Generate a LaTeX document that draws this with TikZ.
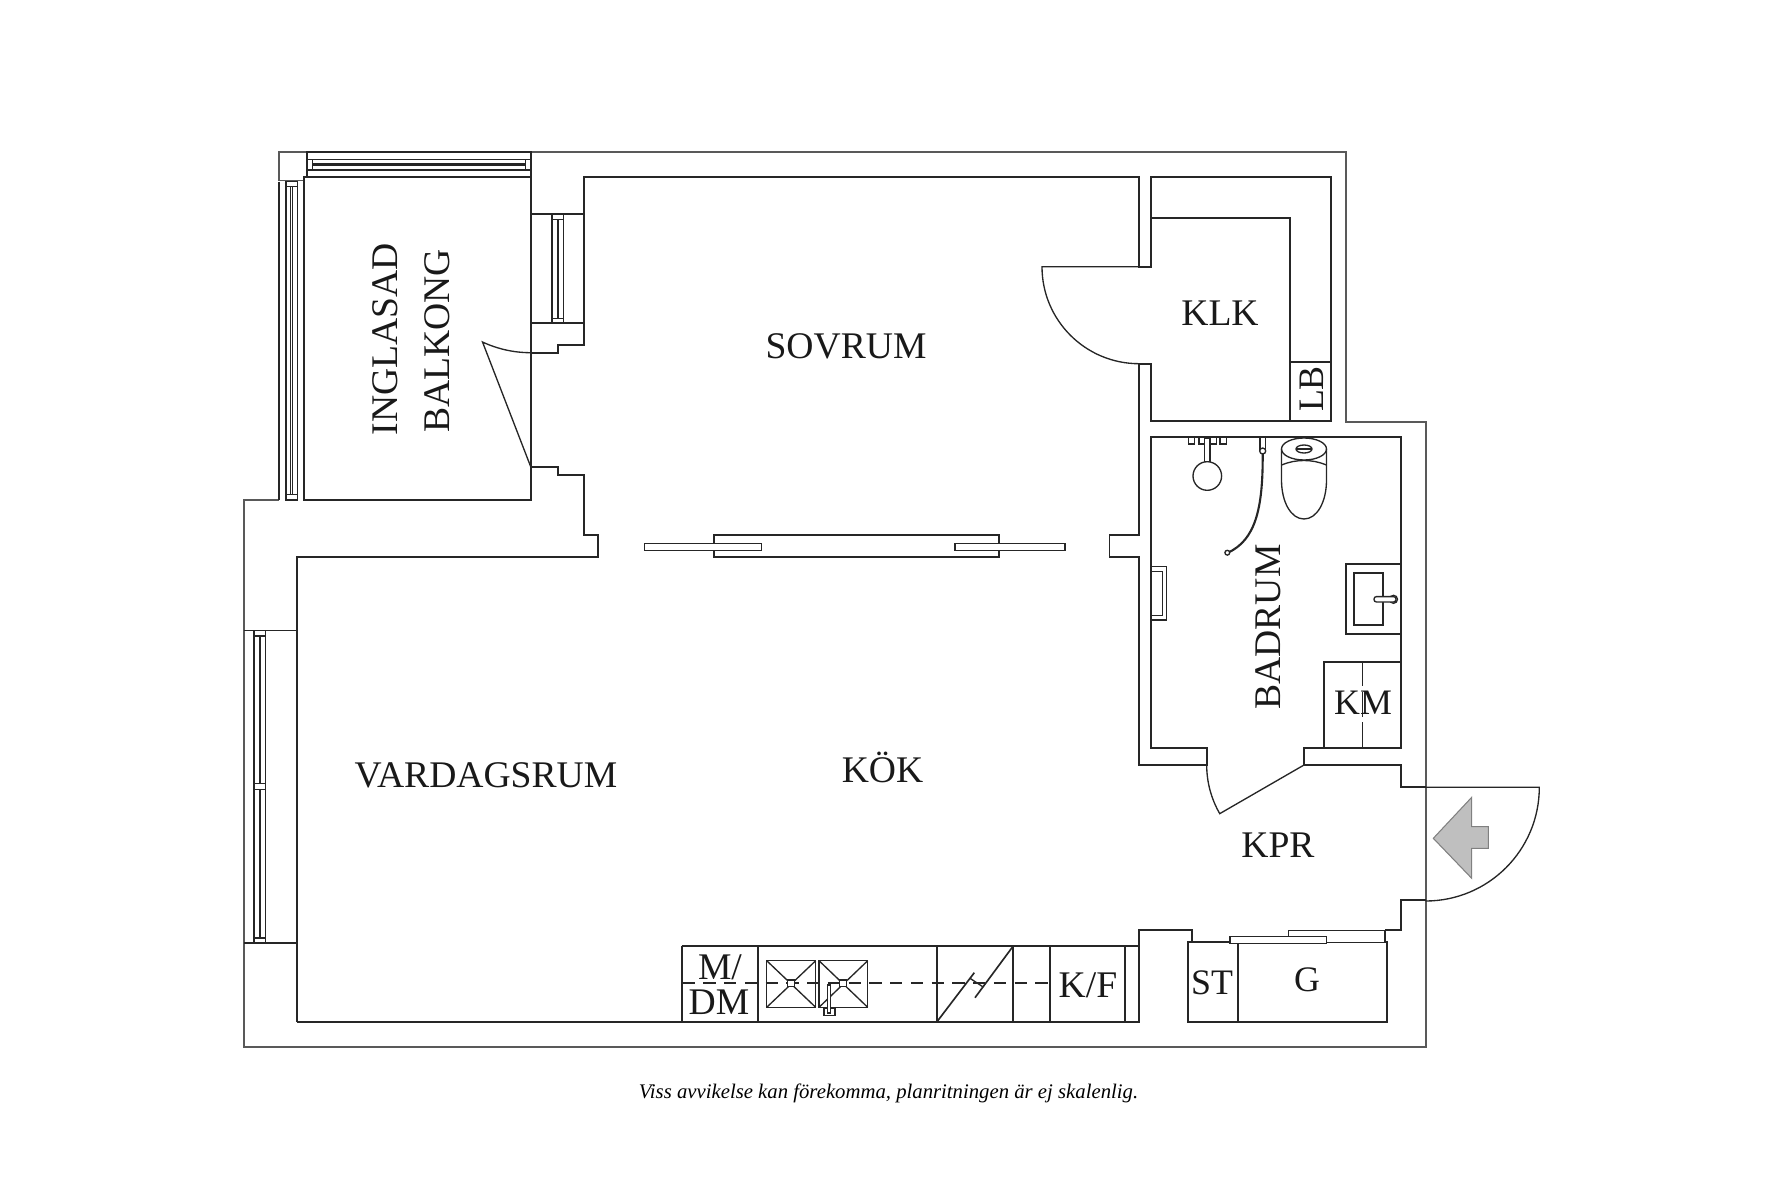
\documentclass[tikz,border=0pt]{standalone}
\usepackage{fontspec}
\setmainfont{Liberation Serif}
\begin{document}
\begin{tikzpicture}[x=1pt,y=1pt,scale=0.2845,yscale=-1,
		wall/.style={draw=black!85,line width=0.47pt,line join=miter},
		outer/.style={draw=black!65,line width=0.45pt},
		thin/.style={draw=black!85,line width=0.38pt},
		room/.style={font=\fontsize{10.7}{12}\selectfont,text=black!90,inner sep=0pt},
		small/.style={font=\fontsize{10.2}{12}\selectfont,text=black!90,inner sep=0pt},
]

\useasboundingbox (0,0) rectangle (1780,1187);

\draw[outer] (279,500) -- (244,500) -- (244,1047) -- (1425.7,1047) -- (1425.7,422) -- (1346,422) -- (1346,152) -- (279,152) -- (279,180.7) -- (304,180.7);

\draw[wall] (297.3,1022) -- (297.3,557) -- (597.7,557) -- (597.7,535) -- (584,535) -- (584,475) -- (558.3,475) -- (558.3,466.7) -- (530.7,466.7);
\draw[wall] (530.7,352.7) -- (558.3,352.7) -- (558.3,345) -- (584,345) -- (584,177.3) -- (1139,177.3) -- (1139,266.7) -- (1151,266.7) -- (1151,177.3) -- (1330.7,177.3) -- (1330.7,420.7) -- (1151,420.7) -- (1151,364) -- (1139,364) -- (1139,535) -- (1109.5,535) -- (1109.5,557) -- (1139,557) -- (1139,765) -- (1206.7,765) -- (1206.7,748.3) -- (1151,748.3) -- (1151,437.3) -- (1400.7,437.3) -- (1400.7,748.3) -- (1304,748.3) -- (1304,765) -- (1400.7,765) -- (1400.7,787.3) -- (1425.7,787.3);
\draw[wall] (1425.7,900) -- (1400.7,900) -- (1400.7,930) -- (1385,930);
\draw[wall] (1191.7,942.3) -- (1191.7,930) -- (1139,930) -- (1139,1022) -- (297.3,1022);

\draw[wall] (304,177.3) rectangle (530.7,500);
\draw[wall] (279.3,181.7) -- (279.3,500);
\draw[wall] (530.7,214) -- (584,214);
\draw[wall] (530.7,322.7) -- (584,322.7);
\draw[wall] (1151,217.7) -- (1290,217.7) -- (1290,420.7);
\draw[wall] (1290,362.3) -- (1330.7,362.3);

\draw[thin] (286,181.7) rectangle (297.3,500);
\draw[thin] (290.7,186.7) -- (290.7,494.7);
\draw[thin] (292.7,186.7) -- (292.7,494.7);
\draw[thin] (286,186.7) -- (297.3,186.7);
\draw[thin] (286,494.7) -- (297.3,494.7);

\draw[wall] (307.3,152.3) rectangle (530.7,177.3);
\draw[thin] (307.3,159.3) -- (530.7,159.3);
\draw[thin] (307.3,170) -- (530.7,170);
\draw[thin] (312.7,164) -- (525.3,164);
\draw[thin] (312.7,165.7) -- (525.3,165.7);
\draw[thin] (312.7,159.3) -- (312.7,170);
\draw[thin] (525.3,159.3) -- (525.3,170);

\draw[thin] (552,214) rectangle (563.3,322.7);
\draw[thin] (557.3,219.3) -- (557.3,318.3);
\draw[thin] (558.7,219.3) -- (558.7,318.3);
\draw[thin] (552,219.3) -- (563.3,219.3);
\draw[thin] (552,318.3) -- (563.3,318.3);

\draw[wall] (244,630.6) -- (297.3,630.6);
\draw[wall] (244,943) -- (297.3,943);
\draw[thin] (254,630.6) rectangle (265.7,943);
\draw[thin] (259.3,636) -- (259.3,783.8);
\draw[thin] (260.7,636) -- (260.7,783.8);
\draw[thin] (259.3,789.5) -- (259.3,938);
\draw[thin] (260.7,789.5) -- (260.7,938);
\draw[thin] (254,636) -- (265.7,636);
\draw[thin] (254,783.8) -- (265.7,783.8);
\draw[thin] (254,789.5) -- (265.7,789.5);
\draw[thin] (254,938) -- (265.7,938);

\draw[wall] (714.2,535) rectangle (999,557);
\draw[thin,fill=white] (644.2,543.7) rectangle (761.7,550.3);
\draw[thin,fill=white] (955,543.7) rectangle (1065,550.3);

\draw[thin] (530.7,352.7) arc (90:115:114pt) -- (530.7,466.7);
\draw[thin] (1139,266.7) -- (1042,266.7) arc (180:90:97pt);
\draw[thin] (1206.7,765) arc (180:150:97.3pt) -- (1304,765);
\draw[thin] (1400.7,787.3) -- (1539.3,787.3) arc (0:90:113.7pt);

\draw[draw=black!50,line width=0.3pt,fill=black!25] (1433.3,838.3) -- (1471.7,797.3) -- (1471.7,826.7) -- (1488.3,826.7) -- (1488.3,848.3) -- (1471.7,848.3) -- (1471.7,878.3) -- cycle;

\draw[wall] (681.7,945.7) -- (1139,945.7);
\draw[wall] (681.7,945.7) -- (681.7,1022);
\draw[wall] (757.7,945.7) -- (757.7,1022);
\draw[wall] (937,945.7) -- (937,1022);
\draw[wall] (1012.7,945.7) -- (1012.7,1022);
\draw[wall] (1050,945.7) -- (1050,1022);
\draw[wall] (1125.3,945.7) -- (1125.3,1022);
\draw[wall,dash pattern=on 3.5pt off 2.4pt] (682.7,983.3) -- (1050,983.3);

\draw[thin] (766.7,960.7) rectangle (815.7,1007.3);
\draw[thin] (766.7,960.7) -- (815.7,1007.3);
\draw[thin] (815.7,960.7) -- (766.7,1007.3);
\draw[thin,fill=white] (787.5,980) rectangle (794.5,986.6);
\draw[thin] (819,960.7) rectangle (867.7,1007.3);
\draw[thin] (819,960.7) -- (867.7,1007.3);
\draw[thin] (867.7,960.7) -- (819,1007.3);
\draw[thin,fill=white] (839.8,980) rectangle (846.8,986.6);
\draw[thin] (824,1008.3) rectangle (835,1015.7);
\draw[thin,fill=white] (827.7,985) rectangle (830.7,1013);

\draw[wall] (937,1021.7) -- (974.3,972.7);
\draw[wall] (975,997.7) -- (1012.7,946.7);
\draw[thin] (970,978.3) -- (982.7,986.7);

\draw[wall] (1188.3,942.3) rectangle (1386.7,1021.7);
\draw[wall] (1238.3,942.3) -- (1238.3,1021.7);
\draw[thin,fill=white] (1288.3,930.7) rectangle (1385,942.3);
\draw[thin,fill=white] (1230,936.7) rectangle (1326.7,943.3);

\draw[wall] (1324.3,748.3) -- (1324.3,661.7) -- (1400.7,661.7);
\draw[thin,dash pattern=on 7pt off 1.6pt] (1362.3,661.7) -- (1362.3,748.3);

\draw[wall] (1400.7,634) -- (1345.7,634) -- (1345.7,564) -- (1400.7,564);
\draw[wall] (1354.3,572.7) rectangle (1382.7,625.3);
\draw[thin,fill=white] (1393.5,599.3) circle (4pt);
\draw[thin,fill=white,rounded corners=0.7pt] (1374,596.6) rectangle (1396,602);

\draw[thin] (1151,566.7) rectangle (1166.7,620);
\draw[thin] (1151,571.7) rectangle (1162.3,615.7);

\foreach \px in {1188.3,1199,1210,1220}
	\draw[thin] (\px,437.3) rectangle ++(6.5,6.7);
\draw[thin,fill=white] (1204.6,438) rectangle (1210,462);
\draw[thin,fill=white] (1207.3,476) circle (14.3pt);

\draw[thin] (1260,437.3) rectangle (1265.4,450);
\draw[thin,fill=white] (1262.7,451) circle (3pt);
\draw[wall,line width=0.6pt] (1262.7,454) .. controls (1263,510) and (1255,540) .. (1228,552.7);
\draw[thin,fill=white] (1227.3,552.7) circle (2.4pt);

\begin{scope}
\clip (1270,437.3) rectangle (1340,530);
\draw[thin,fill=white] (1304,449) ellipse (22.5pt and 11pt);
\end{scope}
\draw[thin] (1304,449) ellipse (8pt and 4pt);
\draw[thin] (1296,449) -- (1312,449);
\draw[thin] (1281.5,449) -- (1281.5,480) .. controls (1281.5,502) and (1291,519) .. (1304,519) .. controls (1317,519) and (1326.5,502) .. (1326.5,480) -- (1326.5,449);
\draw[thin] (1281.5,465) .. controls (1296,459) and (1312,459) .. (1326.5,465);

\node[room,rotate=90] (inglasad) at (385,339) {INGLASAD};
\node[room,rotate=90] (balkong) at (437.3,341) {BALKONG};
\node[room] (sovrum) at (846,346) {SOVRUM};
\node[room] (klk) at (1220,313.3) {KLK};
\node[small,rotate=90] (lb) at (1312,389) {LB};
\node[room,rotate=90] (badrum) at (1268,627) {BADRUM};
\node[small] (km) at (1363,703) {KM};
\node[room] (kok) at (882.5,767.5) {KÖK};
\node[room] (vardagsrum) at (486,775) {VARDAGSRUM};
\node[room] (kpr) at (1278,845) {KPR};
\node[small] (st) at (1212,983) {ST};
\node[small] (g) at (1307,980) {G};
\node[room] (kf) at (1088,985) {K/F};
\node[room] (md) at (720,967) {M/};
\node[room] (dm) at (719,1002) {DM};
\node[inner sep=0pt,font=\fontsize{5.9}{7}\selectfont\itshape] (note) at (888.5,1093) {Viss avvikelse kan förekomma, planritningen är ej skalenlig.};

\end{tikzpicture}
\end{document}
